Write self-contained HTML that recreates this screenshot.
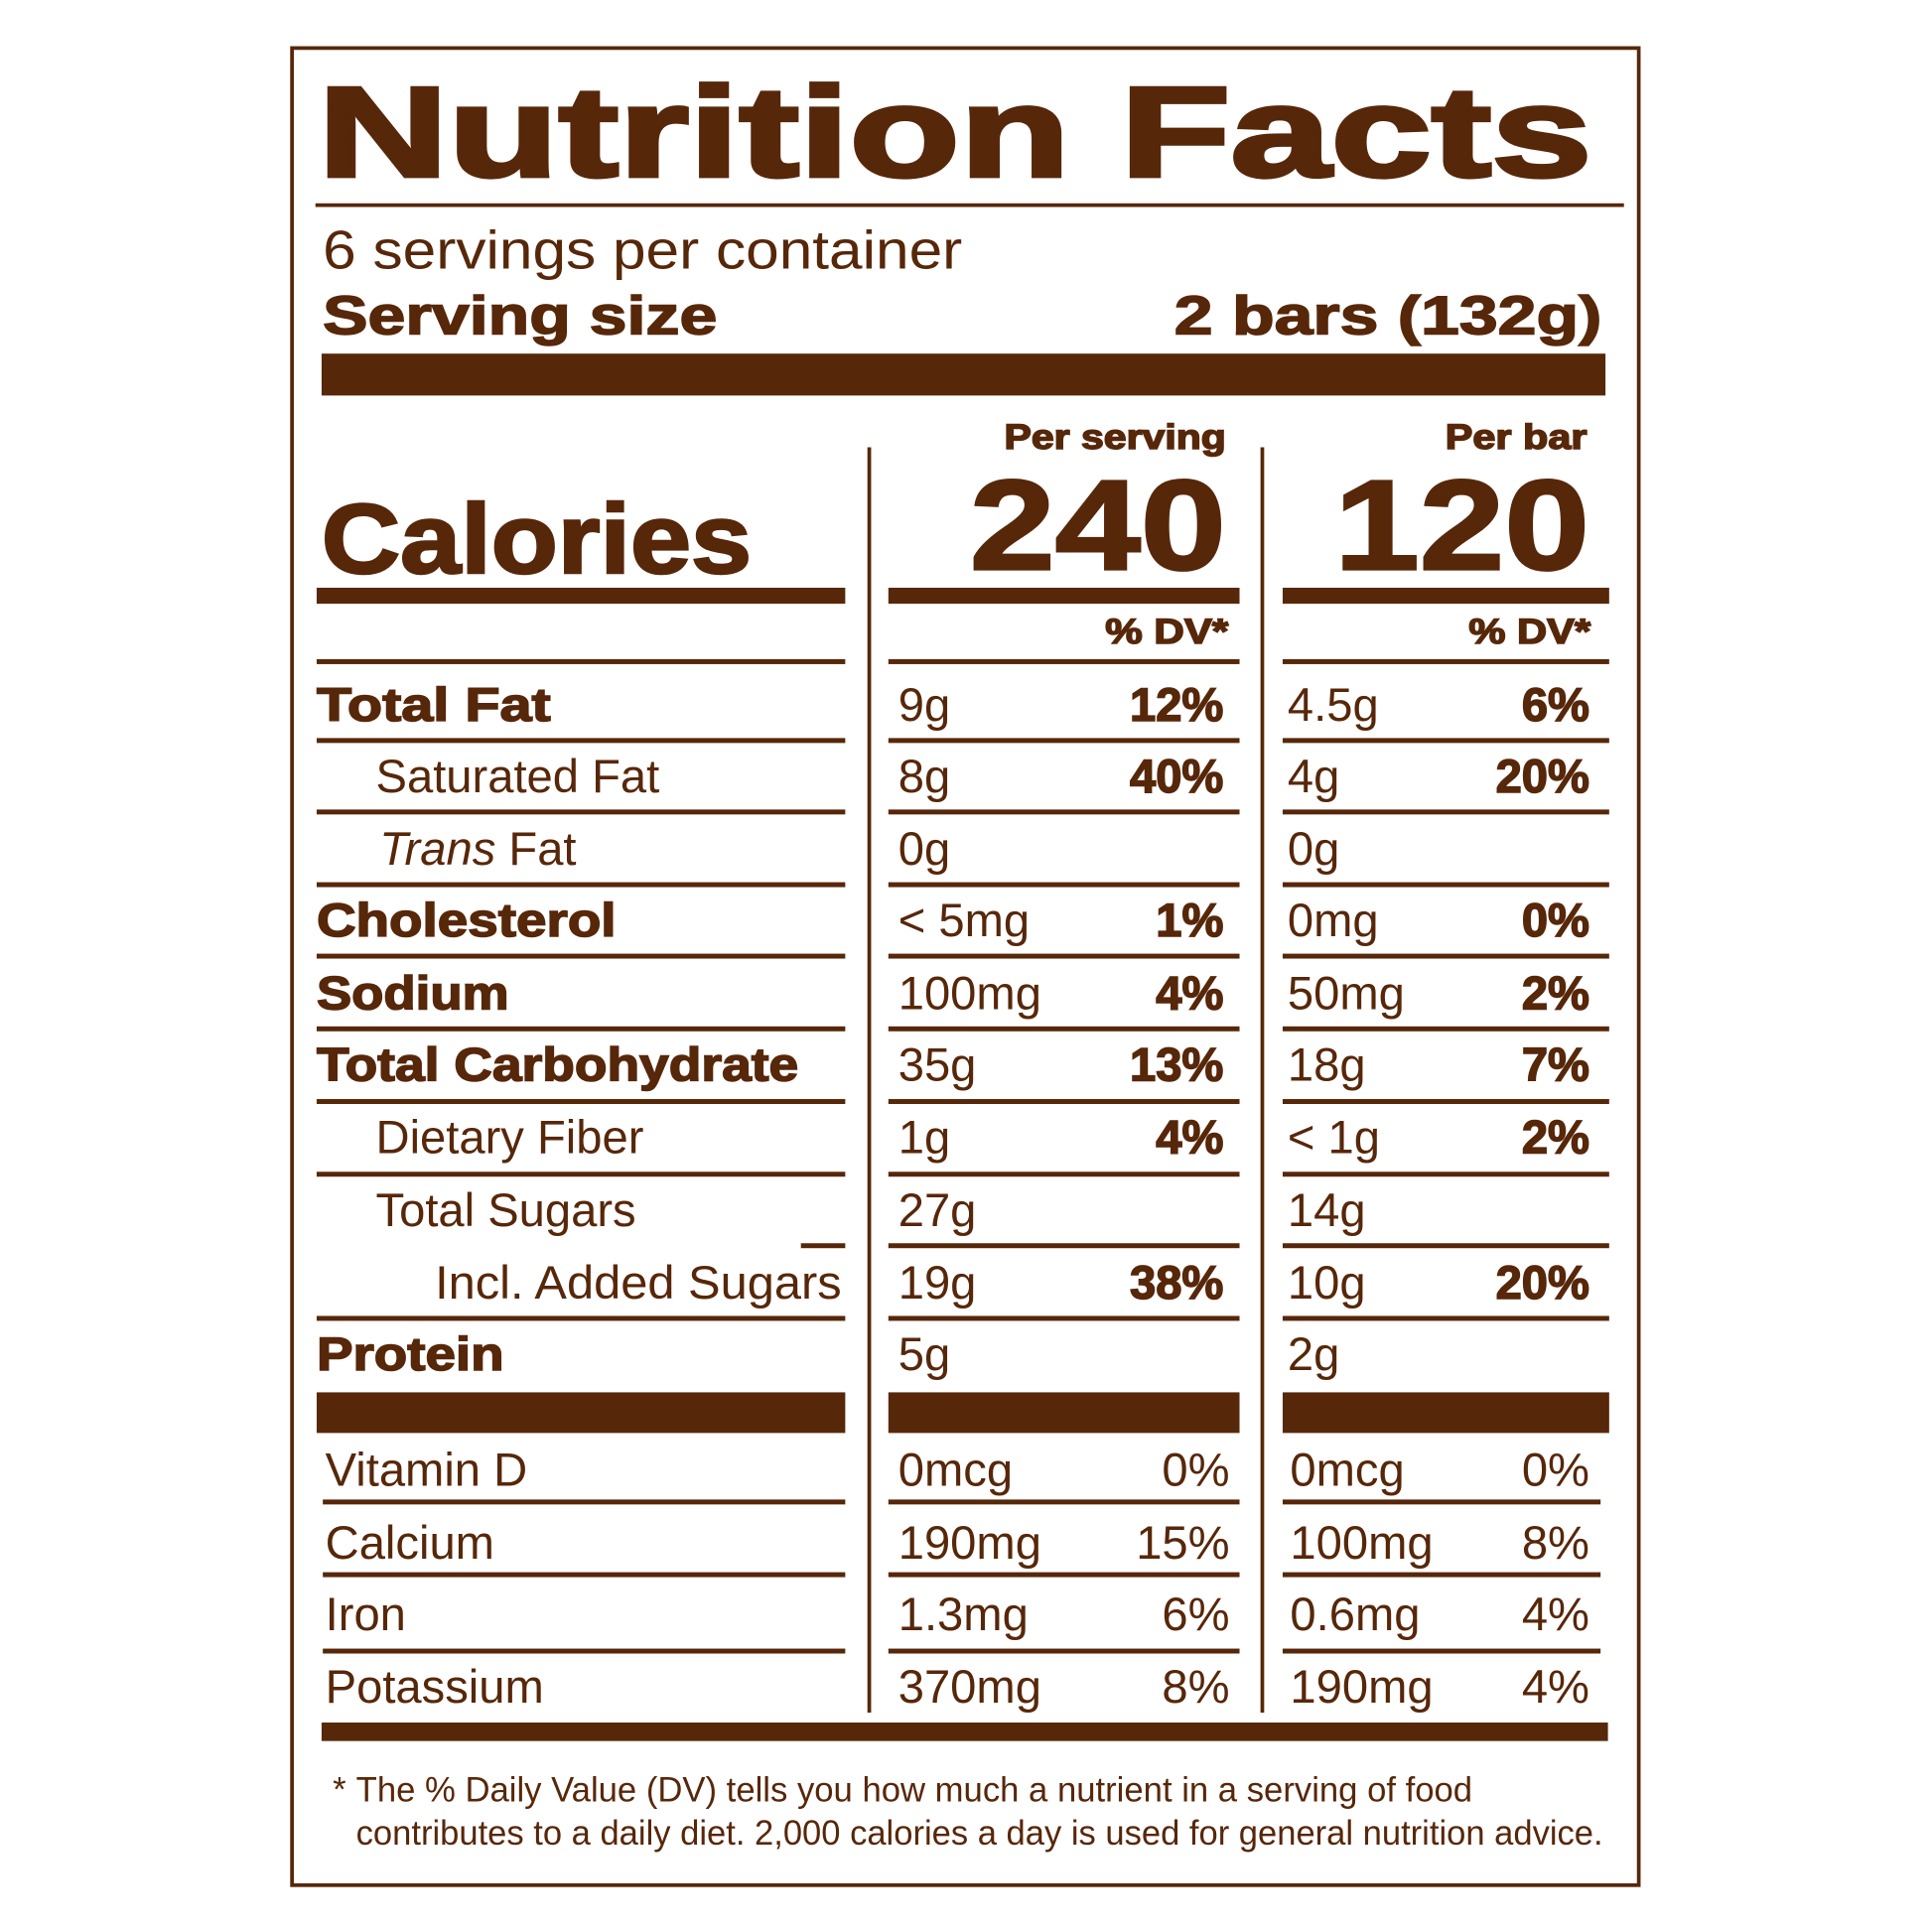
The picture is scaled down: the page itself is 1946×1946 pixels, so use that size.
<!DOCTYPE html>
<html><head><meta charset="utf-8"><style>
html,body{margin:0;padding:0;background:#fff;}
svg{display:block}
text{font-family:"Liberation Sans",sans-serif;fill:#57270a}
.b{font-weight:bold}
.h{stroke:#57270a;stroke-width:1.2}
</style></head><body>
<svg width="1946" height="1946" viewBox="0 0 1568 1568" xmlns="http://www.w3.org/2000/svg">
<g fill="#57270a">
<rect x="237" y="39" width="1093" height="1491" fill="none" stroke="#57270a" stroke-width="3"/>
<rect x="256" y="165" width="1062" height="3"/>
<rect x="261" y="287" width="1042" height="34"/>
<rect x="704" y="363" width="3" height="1027"/>
<rect x="1023" y="363" width="3" height="1027"/>
<rect x="257" y="477" width="429" height="13"/>
<rect x="721" y="477" width="285" height="13"/>
<rect x="1041" y="477" width="265" height="13"/>
<rect x="257" y="535" width="429" height="4"/><rect x="721" y="535" width="285" height="4"/><rect x="1041" y="535" width="265" height="4"/>
<rect x="257" y="599" width="429" height="4"/><rect x="721" y="599" width="285" height="4"/><rect x="1041" y="599" width="265" height="4"/>
<rect x="257" y="657" width="429" height="4"/><rect x="721" y="657" width="285" height="4"/><rect x="1041" y="657" width="265" height="4"/>
<rect x="257" y="716" width="429" height="4"/><rect x="721" y="716" width="285" height="4"/><rect x="1041" y="716" width="265" height="4"/>
<rect x="257" y="774" width="429" height="4"/><rect x="721" y="774" width="285" height="4"/><rect x="1041" y="774" width="265" height="4"/>
<rect x="257" y="833" width="429" height="4"/><rect x="721" y="833" width="285" height="4"/><rect x="1041" y="833" width="265" height="4"/>
<rect x="257" y="892" width="429" height="4"/><rect x="721" y="892" width="285" height="4"/><rect x="1041" y="892" width="265" height="4"/>
<rect x="257" y="951" width="429" height="4"/><rect x="721" y="951" width="285" height="4"/><rect x="1041" y="951" width="265" height="4"/>
<rect x="650" y="1009" width="36" height="4"/><rect x="721" y="1009" width="285" height="4"/><rect x="1041" y="1009" width="265" height="4"/>
<rect x="257" y="1068" width="429" height="4"/><rect x="721" y="1068" width="285" height="4"/><rect x="1041" y="1068" width="265" height="4"/>
<rect x="257" y="1130" width="429" height="33"/><rect x="721" y="1130" width="285" height="33"/><rect x="1041" y="1130" width="265" height="33"/>
<rect x="262" y="1217" width="424" height="4"/><rect x="721" y="1217" width="285" height="4"/><rect x="1041" y="1217" width="258" height="4"/>
<rect x="262" y="1276" width="424" height="4"/><rect x="721" y="1276" width="285" height="4"/><rect x="1041" y="1276" width="258" height="4"/>
<rect x="262" y="1338" width="424" height="4"/><rect x="721" y="1338" width="285" height="4"/><rect x="1041" y="1338" width="258" height="4"/>
<rect x="261" y="1398" width="1044" height="15"/>
</g>
<text x="258" y="143" font-size="104" class="b" textLength="1034" lengthAdjust="spacingAndGlyphs" stroke="#57270a" stroke-width="3">Nutrition Facts</text>
<text x="262" y="218" font-size="44" textLength="519" lengthAdjust="spacingAndGlyphs">6 servings per container</text>
<text x="262" y="271" font-size="44" class="b h" textLength="320" lengthAdjust="spacingAndGlyphs">Serving size</text>
<text x="953" y="271" font-size="44" class="b h" textLength="347" lengthAdjust="spacingAndGlyphs">2 bars (132g)</text>
<text x="815" y="364" font-size="28" class="b h" textLength="180" lengthAdjust="spacingAndGlyphs">Per serving</text>
<text x="1173" y="364" font-size="28" class="b h" textLength="115" lengthAdjust="spacingAndGlyphs">Per bar</text>
<text x="261" y="465" font-size="80" class="b" textLength="349" lengthAdjust="spacingAndGlyphs" stroke="#57270a" stroke-width="2">Calories</text>
<text x="787" y="462" font-size="104" class="b" textLength="208" lengthAdjust="spacingAndGlyphs" stroke="#57270a" stroke-width="2">240</text>
<text x="1083" y="462" font-size="104" class="b" textLength="207" lengthAdjust="spacingAndGlyphs" stroke="#57270a" stroke-width="2">120</text>
<text x="897" y="522" font-size="28" class="b h" textLength="100" lengthAdjust="spacingAndGlyphs">% DV*</text>
<text x="1192" y="522" font-size="28" class="b h" textLength="99" lengthAdjust="spacingAndGlyphs">% DV*</text>
<g font-size="38">
<text x="257" y="585" class="b h" textLength="190" lengthAdjust="spacingAndGlyphs">Total Fat</text><text x="729" y="585">9g</text><text x="993" y="585" class="b h" text-anchor="end">12%</text><text x="1045" y="585">4.5g</text><text x="1290" y="585" class="b h" text-anchor="end">6%</text>
<text x="305" y="643">Saturated Fat</text><text x="729" y="643">8g</text><text x="993" y="643" class="b h" text-anchor="end">40%</text><text x="1045" y="643">4g</text><text x="1290" y="643" class="b h" text-anchor="end">20%</text>
<text x="308" y="702"><tspan font-style="italic">Trans</tspan> Fat</text><text x="729" y="702">0g</text><text x="1045" y="702">0g</text>
<text x="257" y="760" class="b h" textLength="243" lengthAdjust="spacingAndGlyphs">Cholesterol</text><text x="729" y="760">&lt; 5mg</text><text x="993" y="760" class="b h" text-anchor="end">1%</text><text x="1045" y="760">0mg</text><text x="1290" y="760" class="b h" text-anchor="end">0%</text>
<text x="257" y="819" class="b h" textLength="156" lengthAdjust="spacingAndGlyphs">Sodium</text><text x="729" y="819">100mg</text><text x="993" y="819" class="b h" text-anchor="end">4%</text><text x="1045" y="819">50mg</text><text x="1290" y="819" class="b h" text-anchor="end">2%</text>
<text x="257" y="877" class="b h" textLength="391" lengthAdjust="spacingAndGlyphs">Total Carbohydrate</text><text x="729" y="877">35g</text><text x="993" y="877" class="b h" text-anchor="end">13%</text><text x="1045" y="877">18g</text><text x="1290" y="877" class="b h" text-anchor="end">7%</text>
<text x="305" y="936">Dietary Fiber</text><text x="729" y="936">1g</text><text x="993" y="936" class="b h" text-anchor="end">4%</text><text x="1045" y="936">&lt; 1g</text><text x="1290" y="936" class="b h" text-anchor="end">2%</text>
<text x="305" y="995">Total Sugars</text><text x="729" y="995">27g</text><text x="1045" y="995">14g</text>
<text x="353" y="1054" textLength="330" lengthAdjust="spacingAndGlyphs">Incl. Added Sugars</text><text x="729" y="1054">19g</text><text x="993" y="1054" class="b h" text-anchor="end">38%</text><text x="1045" y="1054">10g</text><text x="1290" y="1054" class="b h" text-anchor="end">20%</text>
<text x="257" y="1112" class="b h" textLength="152" lengthAdjust="spacingAndGlyphs">Protein</text><text x="729" y="1112">5g</text><text x="1045" y="1112">2g</text>
<text x="264" y="1206">Vitamin D</text><text x="729" y="1206">0mcg</text><text x="998" y="1206" text-anchor="end">0%</text><text x="1047" y="1206">0mcg</text><text x="1290" y="1206" text-anchor="end">0%</text>
<text x="264" y="1265">Calcium</text><text x="729" y="1265">190mg</text><text x="998" y="1265" text-anchor="end">15%</text><text x="1047" y="1265">100mg</text><text x="1290" y="1265" text-anchor="end">8%</text>
<text x="264" y="1323">Iron</text><text x="729" y="1323">1.3mg</text><text x="998" y="1323" text-anchor="end">6%</text><text x="1047" y="1323">0.6mg</text><text x="1290" y="1323" text-anchor="end">4%</text>
<text x="264" y="1382">Potassium</text><text x="729" y="1382">370mg</text><text x="998" y="1382" text-anchor="end">8%</text><text x="1047" y="1382">190mg</text><text x="1290" y="1382" text-anchor="end">4%</text>
</g>
<text x="270" y="1462" font-size="28">*</text>
<text x="289" y="1462" font-size="28" textLength="906" lengthAdjust="spacingAndGlyphs">The % Daily Value (DV) tells you how much a nutrient in a serving of food</text>
<text x="289" y="1497" font-size="28" textLength="1012" lengthAdjust="spacingAndGlyphs">contributes to a daily diet. 2,000 calories a day is used for general nutrition advice.</text>
</svg>
</body></html>
